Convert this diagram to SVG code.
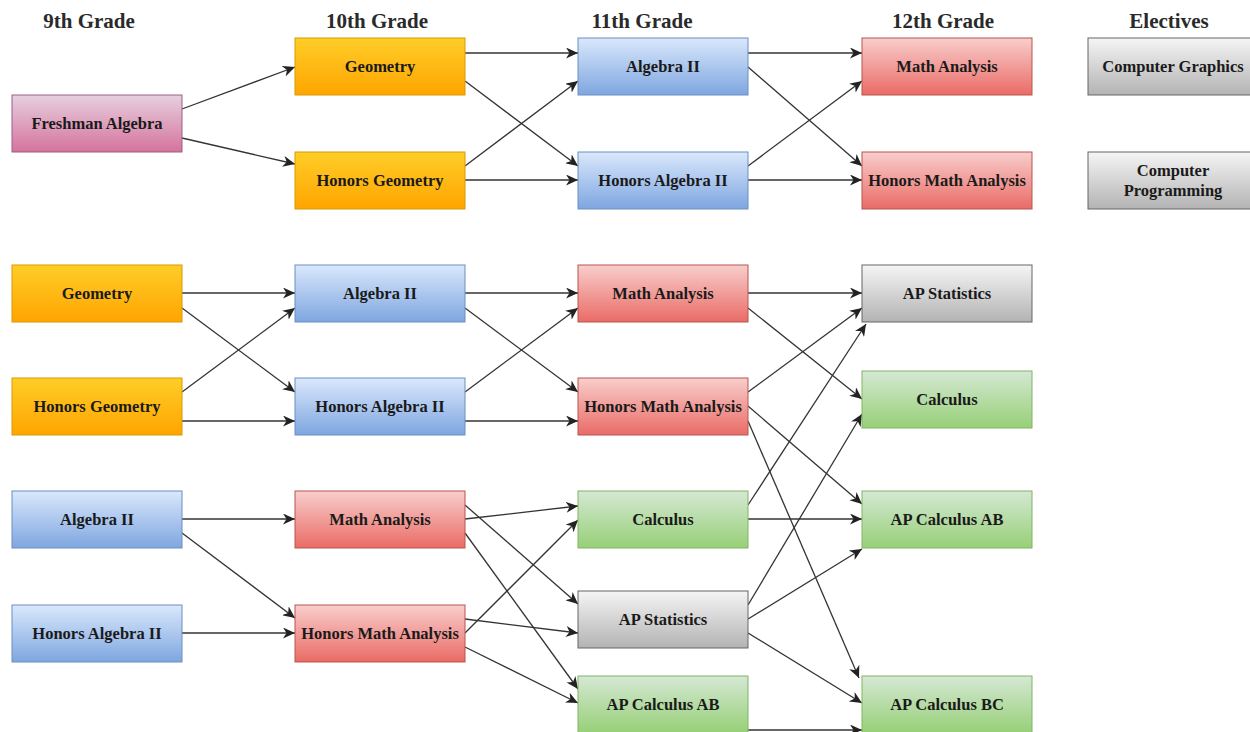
<svg xmlns="http://www.w3.org/2000/svg" width="1250" height="732" viewBox="0 0 1250 732">
<style>
.hdr{font-family:"Liberation Serif","DejaVu Serif",serif;font-size:21px;font-weight:bold;fill:#2a2a2a;text-anchor:middle}
.lbl{font-family:"Liberation Serif","DejaVu Serif",serif;font-size:16.5px;font-weight:bold;fill:#1a1a1a;text-anchor:middle}
.e{fill:none;stroke:#333;stroke-width:1.3;marker-end:url(#arr)}
.pink{fill:url(#gPink);stroke:#996185}
.orange{fill:url(#gOrange);stroke:#d79b00}
.blue{fill:url(#gBlue);stroke:#6c8ebf}
.red{fill:url(#gRed);stroke:#b85450}
.green{fill:url(#gGreen);stroke:#82b366}
.gray{fill:url(#gGray);stroke:#666}
</style>
<defs>
<linearGradient id="gPink" x1="0" y1="0" x2="0" y2="1"><stop offset="0" stop-color="#e6d0de"/><stop offset="1" stop-color="#d5739d"/></linearGradient>
<linearGradient id="gOrange" x1="0" y1="0" x2="0" y2="1"><stop offset="0" stop-color="#ffcd28"/><stop offset="1" stop-color="#ffa500"/></linearGradient>
<linearGradient id="gBlue" x1="0" y1="0" x2="0" y2="1"><stop offset="0" stop-color="#dae8fc"/><stop offset="1" stop-color="#7ea6e0"/></linearGradient>
<linearGradient id="gRed" x1="0" y1="0" x2="0" y2="1"><stop offset="0" stop-color="#f8cecc"/><stop offset="1" stop-color="#ea6b66"/></linearGradient>
<linearGradient id="gGreen" x1="0" y1="0" x2="0" y2="1"><stop offset="0" stop-color="#d5e8d4"/><stop offset="1" stop-color="#97d077"/></linearGradient>
<linearGradient id="gGray" x1="0" y1="0" x2="0" y2="1"><stop offset="0" stop-color="#f5f5f5"/><stop offset="1" stop-color="#b3b3b3"/></linearGradient>
<marker id="arr" markerUnits="userSpaceOnUse" markerWidth="13" markerHeight="11" viewBox="0 0 13 11" refX="12" refY="5.5" orient="auto">
<path d="M0,0 L12,5.5 L0,11 L3.5,5.5 z" fill="#222"/>
</marker>
</defs>

<g id="headers">
<text class="hdr" x="89" y="28">9th Grade</text>
<text class="hdr" x="377" y="28">10th Grade</text>
<text class="hdr" x="642" y="28">11th Grade</text>
<text class="hdr" x="943" y="28">12th Grade</text>
<text class="hdr" x="1169" y="28">Electives</text>
</g>

<g id="connectors">
<path class="e" d="M182,109 L295,67"/>
<path class="e" d="M182,138 L295,164"/>
<path class="e" d="M465,53 L578,53"/>
<path class="e" d="M465,81 L578,166"/>
<path class="e" d="M465,166 L578,81"/>
<path class="e" d="M465,180 L578,180"/>
<path class="e" d="M748,53 L862,53"/>
<path class="e" d="M748,67 L862,166"/>
<path class="e" d="M748,166 L862,81"/>
<path class="e" d="M748,180 L862,180"/>

<path class="e" d="M182,293 L295,293"/>
<path class="e" d="M182,308 L295,392"/>
<path class="e" d="M182,392 L295,308"/>
<path class="e" d="M182,421 L295,421"/>
<path class="e" d="M465,293 L578,293"/>
<path class="e" d="M465,308 L578,392"/>
<path class="e" d="M465,392 L578,308"/>
<path class="e" d="M465,421 L578,421"/>

<path class="e" d="M748,293 L862,293"/>
<path class="e" d="M748,308 L862,399"/>
<path class="e" d="M748,392 L862,308"/>
<path class="e" d="M748,406 L862,504"/>
<path class="e" d="M748,421 L859,678"/>
<path class="e" d="M748,505 L866,324"/>
<path class="e" d="M748,519 L862,519"/>
<path class="e" d="M748,605 L862,414"/>
<path class="e" d="M748,619 L862,549"/>
<path class="e" d="M748,633 L862,703"/>
<path class="e" d="M748,730 L862,730"/>

<path class="e" d="M182,519 L295,519"/>
<path class="e" d="M182,533 L295,618"/>
<path class="e" d="M182,633 L295,633"/>
<path class="e" d="M465,519 L578,506"/>
<path class="e" d="M465,505 L578,604"/>
<path class="e" d="M465,533 L578,689"/>
<path class="e" d="M465,633 L578,520"/>
<path class="e" d="M465,619 L578,633"/>
<path class="e" d="M465,647 L578,703"/>
</g>

<g id="n9-freshman-algebra"><rect class="pink" x="12" y="95" width="170" height="57"/><text class="lbl" x="97" y="129">Freshman Algebra</text></g>
<g id="n10-geometry"><rect class="orange" x="295" y="38" width="170" height="57"/><text class="lbl" x="380" y="72">Geometry</text></g>
<g id="n10-honors-geometry"><rect class="orange" x="295" y="152" width="170" height="57"/><text class="lbl" x="380" y="186">Honors Geometry</text></g>
<g id="n11-algebra2"><rect class="blue" x="578" y="38" width="170" height="57"/><text class="lbl" x="663" y="72">Algebra II</text></g>
<g id="n11-honors-algebra2"><rect class="blue" x="578" y="152" width="170" height="57"/><text class="lbl" x="663" y="186">Honors Algebra II</text></g>
<g id="n12-math-analysis"><rect class="red" x="862" y="38" width="170" height="57"/><text class="lbl" x="947" y="72">Math Analysis</text></g>
<g id="n12-honors-math-analysis"><rect class="red" x="862" y="152" width="170" height="57"/><text class="lbl" x="947" y="186">Honors Math Analysis</text></g>
<g id="el-computer-graphics"><rect class="gray" x="1088" y="38" width="170" height="57"/><text class="lbl" x="1173" y="72">Computer Graphics</text></g>
<g id="el-computer-programming"><rect class="gray" x="1088" y="152" width="170" height="57"/><text class="lbl" x="1173" y="176">Computer</text><text class="lbl" x="1173" y="196">Programming</text></g>

<g id="n9-geometry"><rect class="orange" x="12" y="265" width="170" height="57"/><text class="lbl" x="97" y="299">Geometry</text></g>
<g id="n9-honors-geometry"><rect class="orange" x="12" y="378" width="170" height="57"/><text class="lbl" x="97" y="412">Honors Geometry</text></g>
<g id="n10-algebra2"><rect class="blue" x="295" y="265" width="170" height="57"/><text class="lbl" x="380" y="299">Algebra II</text></g>
<g id="n10-honors-algebra2"><rect class="blue" x="295" y="378" width="170" height="57"/><text class="lbl" x="380" y="412">Honors Algebra II</text></g>
<g id="n11-math-analysis"><rect class="red" x="578" y="265" width="170" height="57"/><text class="lbl" x="663" y="299">Math Analysis</text></g>
<g id="n11-honors-math-analysis"><rect class="red" x="578" y="378" width="170" height="57"/><text class="lbl" x="663" y="412">Honors Math Analysis</text></g>
<g id="n12-ap-statistics"><rect class="gray" x="862" y="265" width="170" height="57"/><text class="lbl" x="947" y="299">AP Statistics</text></g>
<g id="n12-calculus"><rect class="green" x="862" y="371" width="170" height="57"/><text class="lbl" x="947" y="405">Calculus</text></g>
<g id="n12-ap-calculus-ab"><rect class="green" x="862" y="491" width="170" height="57"/><text class="lbl" x="947" y="525">AP Calculus AB</text></g>
<g id="n12-ap-calculus-bc"><rect class="green" x="862" y="676" width="170" height="57"/><text class="lbl" x="947" y="710">AP Calculus BC</text></g>

<g id="n9-algebra2"><rect class="blue" x="12" y="491" width="170" height="57"/><text class="lbl" x="97" y="525">Algebra II</text></g>
<g id="n9-honors-algebra2"><rect class="blue" x="12" y="605" width="170" height="57"/><text class="lbl" x="97" y="639">Honors Algebra II</text></g>
<g id="n10-math-analysis"><rect class="red" x="295" y="491" width="170" height="57"/><text class="lbl" x="380" y="525">Math Analysis</text></g>
<g id="n10-honors-math-analysis"><rect class="red" x="295" y="605" width="170" height="57"/><text class="lbl" x="380" y="639">Honors Math Analysis</text></g>
<g id="n11-calculus"><rect class="green" x="578" y="491" width="170" height="57"/><text class="lbl" x="663" y="525">Calculus</text></g>
<g id="n11-ap-statistics"><rect class="gray" x="578" y="591" width="170" height="57"/><text class="lbl" x="663" y="625">AP Statistics</text></g>
<g id="n11-ap-calculus-ab"><rect class="green" x="578" y="676" width="170" height="57"/><text class="lbl" x="663" y="710">AP Calculus AB</text></g>
</svg>
